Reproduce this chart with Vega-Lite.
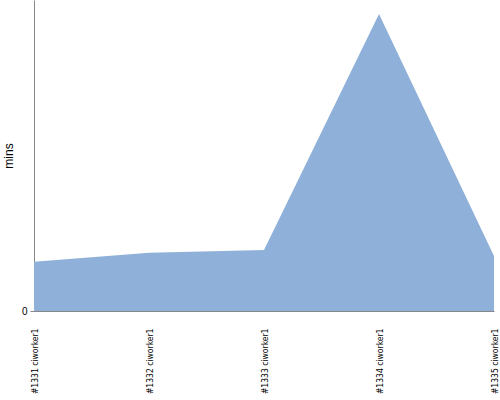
{
  "$schema": "https://vega.github.io/schema/vega-lite/v6.json",
  "width": 460,
  "height": 311,
  "autosize": {"type": "none"},
  "padding": {"left": 34, "top": 0, "right": 6, "bottom": 89},
  "config": {"view": {"stroke": null}, "font": "Liberation Sans"},
  "data": {
    "values": [
      {"build": "#1331 ciworker1", "mins": 1.58},
      {"build": "#1332 ciworker1", "mins": 1.87},
      {"build": "#1333 ciworker1", "mins": 1.96},
      {"build": "#1334 ciworker1", "mins": 9.55},
      {"build": "#1335 ciworker1", "mins": 1.77}
    ]
  },
  "mark": {"type": "area", "color": "#8fb1d9", "opacity": 1},
  "encoding": {
    "x": {
      "field": "build",
      "type": "ordinal",
      "scale": {"type": "point", "padding": 0},
      "axis": {
        "title": null,
        "labelAngle": -90,
        "labelAlign": "right",
        "labelBaseline": "middle",
        "labelFontSize": 8.5,
        "labelColor": "#000",
        "labelPadding": 17,
        "ticks": false,
        "domainColor": "#888",
        "labelFont": "DejaVu Sans Condensed"
      }
    },
    "y": {
      "field": "mins",
      "type": "quantitative",
      "scale": {"domain": [0, 10], "nice": false},
      "axis": {
        "title": "mins",
        "titleFont": "Liberation Sans",
        "titleFontWeight": "normal",
        "titleFontSize": 12,
        "titleColor": "#000",
        "titlePadding": 6,
        "values": [0],
        "grid": false,
        "domainColor": "#888",
        "tickColor": "#888",
        "tickSize": 4,
        "labelFont": "Liberation Sans",
        "labelFontSize": 10,
        "labelColor": "#000",
        "labelPadding": 3
      }
    }
  }
}
